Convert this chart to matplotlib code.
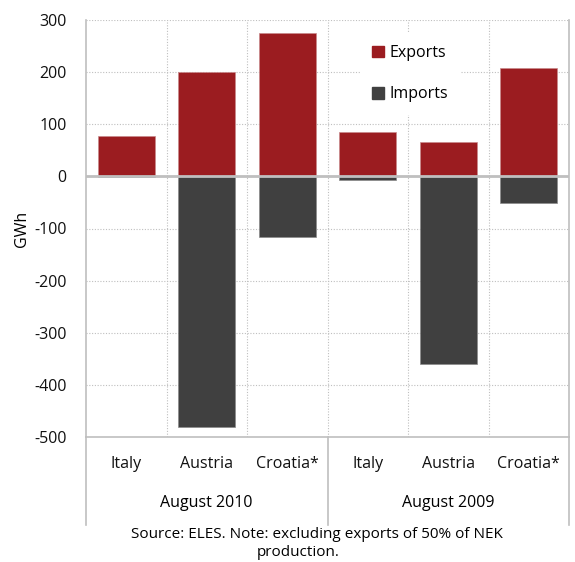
import matplotlib
matplotlib.use('Agg')
import matplotlib.pyplot as plt
from matplotlib.patches import Patch
import numpy as np

plt.rcParams['font.family'] = ['Open Sans', 'DejaVu Sans']
plt.rcParams['axes.unicode_minus'] = False

countries = ['Italy', 'Austria', 'Croatia*', 'Italy', 'Austria', 'Croatia*']
periods = ['August 2010', 'August 2009']
exports = [78, 201, 275, 86, 65, 208]
imports = [-1, -480, -117, -7, -360, -51]

red = '#9B1C20'
dark = '#404040'
grey = '#BFBFBF'
fs = 11.5

fig = plt.figure(figsize=(5.75, 5.62), dpi=100)
ax = fig.add_axes([86/575, 1-437/562, (569-86)/575, (437-20)/562])

x = np.arange(len(countries))
ax.bar(x, exports, width=0.71, color=red, edgecolor='#c98a8c', linewidth=0.5, zorder=3)
ax.bar(x, imports, width=0.71, color=dark, edgecolor='#8a8a8a', linewidth=0.5, zorder=3)

ax.set_xlim(-0.5, len(countries) - 0.5)
ax.set_ylim(-500, 300)
ax.set_yticks(range(-500, 301, 100))
ax.set_xticks(x)
ax.set_xticklabels(countries)
ax.tick_params(axis='both', length=0, labelsize=fs, colors='#111111')
ax.tick_params(axis='x', pad=14)
ax.tick_params(axis='y', pad=14)
ax.set_ylabel('GWh', fontsize=fs, labelpad=3)

# dotted grid: horizontal at ticks, vertical between categories
for yv in range(-400, 301, 100):
    if yv != 0:
        ax.axhline(yv, color=grey, lw=0.8, ls=(0, (1, 1.5)), zorder=1)
for xv in np.arange(0.5, len(countries) - 0.5, 1):
    ax.axvline(xv, color=grey, lw=0.8, ls=(0, (1, 1.5)), zorder=1)
ax.axhline(0, color=grey, lw=2, zorder=4)

for side in ['left', 'right', 'bottom']:
    ax.spines[side].set_color(grey)
    ax.spines[side].set_linewidth(1.2)
ax.spines['top'].set_visible(False)

# group separators and labels under the axis
trans = ax.get_xaxis_transform()
for xv in [-0.5, 2.5, 5.5]:
    ax.plot([xv, xv], [0, -0.211], transform=trans, color=grey, lw=1.2, clip_on=False)
for i, p in enumerate(periods):
    ax.text(1 + 3*i, -0.158, p, transform=trans, ha='center', va='center', fontsize=fs)

handles = [Patch(color=red, label='Exports'), Patch(color=dark, label='Imports')]
leg = ax.legend(handles=handles, loc='upper left', bbox_to_anchor=(0.55, 0.99),
                frameon=True, facecolor='white', edgecolor='none', framealpha=1,
                fancybox=False, fontsize=fs, handlelength=0.75, handleheight=0.75,
                handletextpad=0.35, labelspacing=1.6, borderpad=0.8)
leg.set_zorder(5)

fig.text(317/575, 1-535/562, 'Source: ELES. Note: excluding exports of 50% of NEK',
         ha='center', va='center', fontsize=11)
fig.text(298/575, 1-553/562, 'production.', ha='center', va='center', fontsize=11)

fig.savefig('out.png', dpi=100)
